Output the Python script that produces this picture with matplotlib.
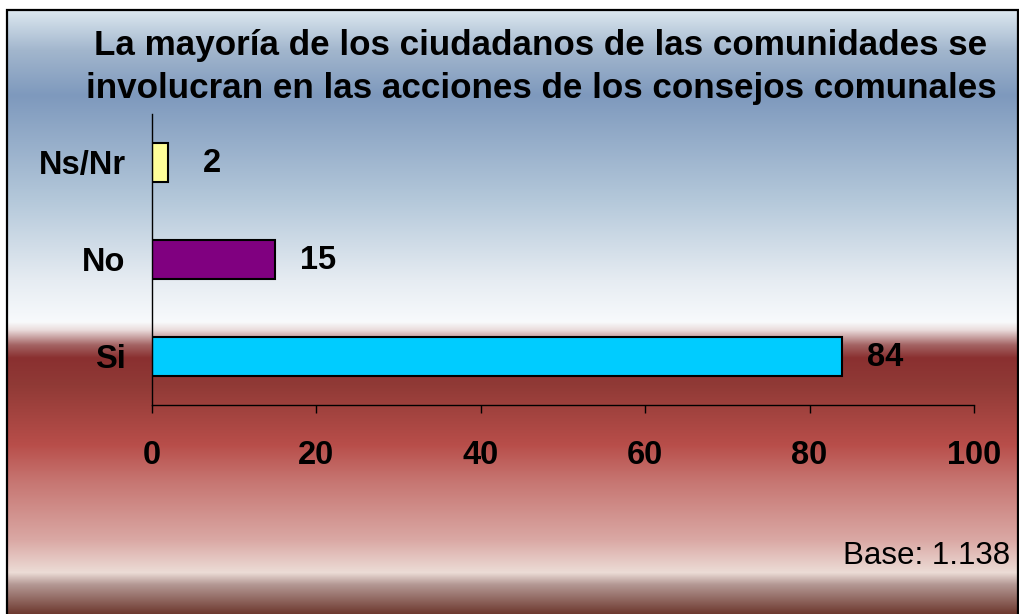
import matplotlib
matplotlib.use('Agg')
import matplotlib.pyplot as plt
from matplotlib.colors import to_rgb
from matplotlib.patches import Rectangle
import numpy as np

# Chart data
categories = ['Si', 'No', 'Ns/Nr']
values = [84, 15, 2]
bar_colors = ['#00ccff', '#800080', '#ffff99']
x_ticks = [0, 20, 40, 60, 80, 100]
title = ('La mayoría de los ciudadanos de las comunidades se\n'
         'involucran en las acciones de los consejos comunales')
base_note = 'Base: 1.138'

W, H = 1020, 614
plt.rcParams['font.family'] = ['Liberation Sans', 'DejaVu Sans']

# background gradient stops: (pixel row from top, colour)
stops = [
    (10, '#dce8f0'), (50, '#a2b6cd'), (95, '#7e99bd'), (200, '#b4c8da'),
    (280, '#e6ecf2'), (322, '#f8fafc'), (330, '#eadcdc'), (345, '#a46464'),
    (358, '#8a3030'), (385, '#903a36'), (445, '#b84e4a'), (480, '#c67470'),
    (540, '#daa8a4'), (573, '#ecdcd6'), (585, '#b49894'), (614, '#6e3a30'),
]


def gradient():
    rows = np.arange(10, H + 1)
    ys = [s[0] for s in stops]
    cols = np.array([to_rgb(s[1]) for s in stops])
    img = np.stack([np.interp(rows, ys, cols[:, k]) for k in range(3)], axis=1)
    return img[:, None, :]


def main():
    fig = plt.figure(figsize=(W / 100, H / 100), dpi=100)
    fig.patch.set_facecolor('white')

    bg = fig.add_axes([7 / W, 0, (W - 8) / W, (H - 10) / H])
    bg.imshow(gradient(), aspect='auto', extent=[0, 1, 0, 1], interpolation='bilinear')
    bg.set_axis_off()
    bg.set_zorder(-1)
    fig.patches.append(Rectangle((7.5 / W, -0.01), (W - 9) / W, (H - 9.5) / H + 0.01,
                                 transform=fig.transFigure, fill=False,
                                 edgecolor='black', linewidth=1.6))

    ax = fig.add_axes([152 / W, 1 - 405 / H, (974 - 152) / W, (405 - 113.5) / H])
    ax.patch.set_alpha(0)
    y = np.arange(len(categories))
    ax.barh(y, values, height=0.4, color=bar_colors, edgecolor='black', linewidth=1.5)
    ax.set_xlim(0, 100)
    ax.set_ylim(-0.5, len(categories) - 0.5)
    ax.set_yticks(y)
    ax.set_yticklabels(categories, fontsize=23.5, fontweight='bold')
    ax.set_xticks(x_ticks)
    ax.set_xticklabels([str(t) for t in x_ticks], fontsize=23.5, fontweight='bold')
    ax.tick_params(axis='y', length=0, pad=19)
    ax.tick_params(axis='x', length=6, width=1, direction='out', pad=19)
    for side in ['top', 'right']:
        ax.spines[side].set_visible(False)
    for side in ['left', 'bottom']:
        ax.spines[side].set_linewidth(1)

    for yi, v in zip(y, values):
        ax.annotate(str(v), (v, yi), xytext=(31, -1), textcoords='offset points',
                    ha='center', va='center', fontsize=23.5, fontweight='bold')

    fig.text(541 / W, 1 - 67 / H, title, ha='center', va='center', fontsize=25.2,
             fontweight='bold', linespacing=1.36)
    fig.text(1010 / W, 1 - 556 / H, base_note, ha='right', va='center', fontsize=22.5)

    fig.savefig('out.png', dpi=100)


if __name__ == '__main__':
    main()
